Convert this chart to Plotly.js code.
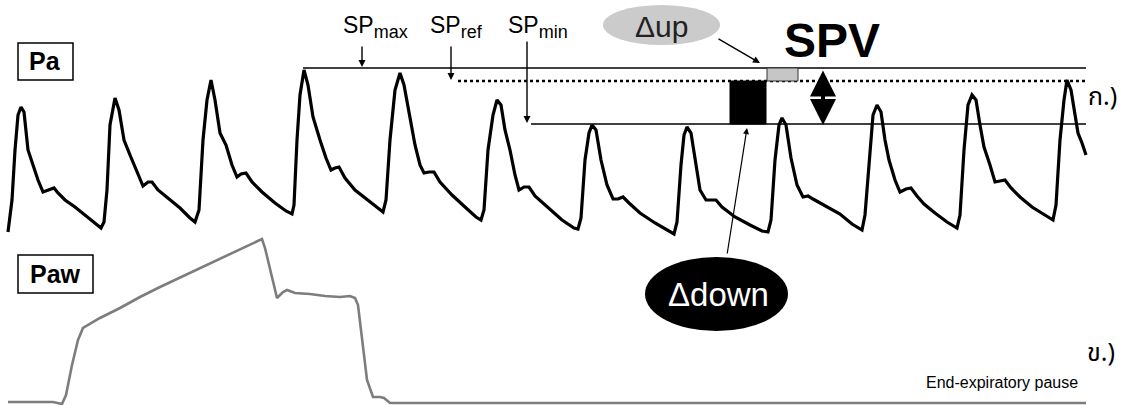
<!DOCTYPE html>
<html>
<head>
<meta charset="utf-8">
<script src="https://cdn.plot.ly/plotly-3.0.1.min.js"></script>
<style>html,body{margin:0;padding:0;background:#fff;}#chart{width:1127px;height:405px;}</style>
</head>
<body>
<div id="chart"></div>
<script>
// Arterial pressure (Pa) trace: time position and level
const paTime = [8,12,15,18,21,24,28,33,38,43,48,54,58,65,75,85,95,101,
104,107,110,115,119,124,130,137,143,148,152,158,168,180,190,195,
199,203,207,211,215,220,226,232,237,241,246,252,262,275,286,292,
294,297,300,304,308,313,320,326,331,335,339,345,355,368,379,383,
386,390,395,400,404,410,415,420,424,429,434,440,452,465,476,481,
484,488,493,497,501,505,510,515,519,524,529,535,548,562,574,578,
581,585,589,592,596,601,607,613,618,623,629,640,655,668,674,
677,681,684,687,691,695,700,706,711,716,722,735,750,762,768,
771,775,779,782,786,791,797,803,808,813,820,830,840,852,862,
865,869,873,877,881,885,889,895,900,906,911,917,924,935,947,957,
960,964,968,972,976,980,984,990,995,1000,1005,1011,1020,1032,1043,1053,
1056,1060,1064,1067,1071,1075,1078,1082,1086];
const paLevel = [232,200,150,115,107,112,150,165,180,192,190,188,193,200,207,215,224,228,
222,190,125,98,110,140,155,172,186,182,182,190,198,208,218,222,
210,140,100,80,100,133,145,165,177,174,173,182,192,203,211,214,
205,140,95,70,85,117,140,158,170,168,167,178,190,200,208,212,
200,140,90,73,85,120,145,165,173,172,172,182,195,207,217,220,
210,150,115,100,105,130,150,175,190,187,187,196,208,220,228,229,
218,160,133,125,130,160,185,199,199,197,203,213,223,231,234,
222,165,135,127,133,160,190,200,200,200,207,217,225,231,232,
220,160,125,118,125,158,185,197,196,199,203,208,214,224,230,
215,160,115,105,112,140,160,180,192,189,188,196,204,213,222,228,
215,150,105,95,100,125,147,165,182,181,180,188,197,207,214,220,
205,140,100,80,90,115,133,143,155];

// Airway pressure (Paw) trace
const pawTime = [8,53,62,66,72,78,83,100,120,140,160,175,190,210,233,250,262,265,270,277,283,287,295,310,325,340,350,355,358,362,367,373,380,384,390,400,1086];
const pawLevel = [402,402,404,395,365,340,328,318,308,297,287,280,273,264,253,245,239,248,270,298,292,290,293,294,296,297,296,298,305,340,380,397,397,398,403,403,403];

// Reference systolic pressure levels
const spMax = 68, spRef = 81, spMin = 124;

const FONT = 'Liberation Sans, Arial, Helvetica, sans-serif';
const THAI = 'Noto Sans Thai, Loma, Garuda, Noto Sans, DejaVu Sans, sans-serif';

const traces = [
  {x: pawTime, y: pawLevel, mode: 'lines', line: {color: '#7d7d7d', width: 2.6}, hoverinfo: 'skip'},
  {x: paTime, y: paLevel, mode: 'lines', line: {color: '#000', width: 3.2}, hoverinfo: 'skip'}
];

const shapes = [
  {type: 'line', xref: 'x', yref: 'y', x0: 303, x1: 1086, y0: spMax, y1: spMax, line: {color: '#000', width: 1.6}},
  {type: 'line', xref: 'x', yref: 'y', x0: 458, x1: 1086, y0: spRef, y1: spRef, line: {color: '#000', width: 2.6, dash: 'dot'}},
  {type: 'line', xref: 'x', yref: 'y', x0: 531, x1: 1086, y0: spMin, y1: spMin, line: {color: '#000', width: 1.6}},
  {type: 'rect', xref: 'x', yref: 'y', x0: 767, x1: 798, y0: spMax, y1: spRef, fillcolor: '#c6c6c6', line: {color: '#333', width: 1}},
  {type: 'rect', xref: 'x', yref: 'y', x0: 730, x1: 766, y0: spRef, y1: spMin, fillcolor: '#000', line: {color: '#000', width: 1}},
  {type: 'circle', xref: 'x', yref: 'y', x0: 603, x1: 720, y0: 5, y1: 45, fillcolor: '#cbcbcb', line: {width: 0}},
  {type: 'circle', xref: 'x', yref: 'y', x0: 645, x1: 788, y0: 257, y1: 331, fillcolor: '#000', line: {width: 0}},
  {type: 'rect', xref: 'x', yref: 'y', x0: 18, x1: 73, y0: 43, y1: 80, fillcolor: '#fff', line: {color: '#000', width: 1.5}},
  {type: 'rect', xref: 'x', yref: 'y', x0: 18, x1: 93, y0: 255, y1: 293, fillcolor: '#fff', line: {color: '#000', width: 1.5}}
];

function arrow(x, y, ax, ay, w, size, side) {
  return {x: x, y: y, ax: ax, ay: ay, xref: 'x', yref: 'y', axref: 'x', ayref: 'y', text: '',
    showarrow: true, arrowhead: 2, arrowsize: size || 1, arrowwidth: w || 1.4, arrowcolor: '#000',
    arrowside: side || 'end', standoff: 0, startstandoff: 0};
}
function label(x, y, text, size, opts) {
  return Object.assign({x: x, y: y, xref: 'x', yref: 'y', text: text, showarrow: false,
    font: {family: FONT, size: size, color: '#000'}, xanchor: 'center', yanchor: 'middle'}, opts || {});
}
function sp(sub) {
  return 'SP<sub><span style="font-size:18px">' + sub + '</span></sub>';
}

const annotations = [
  arrow(362, spMax - 1, 362, 45),
  arrow(451, spRef - 1, 451, 45),
  arrow(527, spMin - 1, 527, 40),
  arrow(760, 63, 717, 38, 1.4),
  arrow(747, 128, 727, 255, 1.2),
  arrow(823, spMin + 1, 823, spMax + 1, 4, 1.3, 'end+start'),
  label(341, 27, sp('max'), 23, {xanchor: 'left'}),
  label(428, 27, sp('ref'), 23, {xanchor: 'left'}),
  label(506, 27, sp('min'), 23, {xanchor: 'left'}),
  label(661, 26, 'Δup', 30, {font: {family: FONT, size: 30, color: '#222'}}),
  label(832, 40, '<b>SPV</b>', 48),
  label(718, 294, 'Δdown', 33, {font: {family: FONT, size: 33, color: '#fff'}}),
  label(45, 61, '<b>Pa</b>', 25),
  label(55, 274, '<b>Paw</b>', 25),
  label(1102, 97, 'ก.)', 25, {font: {family: THAI, size: 25, color: '#000'}}),
  label(1101, 353, 'ข.)', 25, {font: {family: THAI, size: 25, color: '#000'}}),
  label(1002, 382, 'End-expiratory pause', 16)
];

const layout = {
  width: 1127, height: 405,
  margin: {l: 0, r: 0, t: 0, b: 0},
  paper_bgcolor: '#fff', plot_bgcolor: '#fff',
  showlegend: false,
  xaxis: {range: [0, 1127], visible: false, fixedrange: true},
  yaxis: {range: [405, 0], visible: false, fixedrange: true},
  shapes: shapes,
  annotations: annotations
};

Plotly.newPlot('chart', traces, layout, {displayModeBar: false, staticPlot: true});
</script>
</body>
</html>
